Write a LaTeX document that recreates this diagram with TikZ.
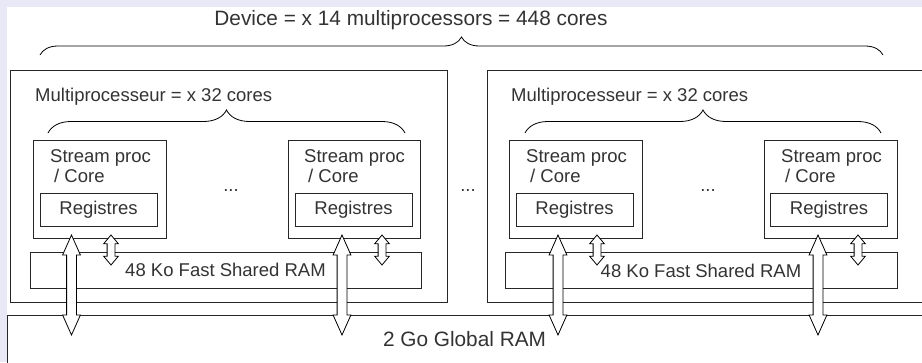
\documentclass[tikz,border=0pt]{standalone}
\usepackage{fontspec}
\setmainfont{Liberation Sans}
\usetikzlibrary{calc,shapes.arrows,decorations.pathreplacing}

\definecolor{lavbg}{RGB}{232,232,246}
\definecolor{ink}{RGB}{51,51,51}

\tikzset{
  blockbox/.style={draw=black!85, line width=0.9pt, inner sep=0pt, text=ink,
    font=\fontsize{18.5}{20}\selectfont},
  lbl/.style={text=ink, inner sep=0pt, font=\fontsize{18.5}{20}\selectfont},
  biglbl/.style={text=ink, inner sep=0pt, font=\fontsize{20.8}{23}\selectfont},
  bigbus/.style={double arrow, draw=black, line width=0.8pt, fill=white,
    inner sep=4.5pt, shape border rotate=90, minimum height=100pt,
    double arrow head extend=4pt, double arrow tip angle=48},
  smallbus/.style={double arrow, draw=black, line width=0.8pt, fill=white,
    inner sep=3.5pt, shape border rotate=90, minimum height=30pt,
    double arrow head extend=3.5pt, double arrow tip angle=80},
  curly/.style={decorate, decoration={brace, amplitude=#1}, draw=black, line width=0.8pt}
}

\begin{document}
\begin{tikzpicture}[x=1pt, y=-1pt]

\useasboundingbox (0,0) rectangle (922,362);
\fill[lavbg] (0,0) rectangle (922,362);
\fill[white] (7,7) rectangle (922,362);

\node[biglbl, anchor=base] (title) at (411,25) {Device = x 14 multiprocessors = 448 cores};
\coordinate (devL) at (40,55);
\coordinate (devR) at (883,55);
\draw[curly=18pt] (devL) -- (devR);

\node[blockbox, minimum width=933pt, minimum height=65pt] (globram) at (473.5,347.5) {};
\node[biglbl, anchor=base] (globtxt) at (464.5,346) {2 Go Global RAM};

\node[blockbox, minimum width=437pt, minimum height=232pt] (mpA) at (228.5,186) {};
\node[blockbox, minimum width=437pt, minimum height=232pt] (mpB) at (705.5,186) {};
\node[lbl, anchor=base] (dotsMid) at (468,191) {...};

\node[lbl, anchor=base west] (mpAtxt) at (35,101) {Multiprocesseur = x 32 cores};
\node[lbl, anchor=base west] (mpBtxt) at (511,101) {Multiprocesseur = x 32 cores};
\coordinate (mpAL) at (48,133);
\coordinate (mpAR) at (405,133);
\coordinate (mpBL) at (525,133);
\coordinate (mpBR) at (881,133);
\draw[curly=23pt] (mpAL) -- (mpAR);
\draw[curly=23pt] (mpBL) -- (mpBR);

\node[blockbox, minimum width=133pt, minimum height=98pt] (coreA1) at (99.5,189) {};
\node[blockbox, minimum width=132pt, minimum height=98pt] (coreA2) at (354,189) {};
\node[blockbox, minimum width=133pt, minimum height=98pt] (coreB1) at (575.5,189) {};
\node[blockbox, minimum width=133pt, minimum height=98pt] (coreB2) at (830.5,189) {};

\node[lbl, anchor=north west, align=left] (txtA1) at (50,149) {Stream proc\\\hspace*{4pt}/ Core};
\node[lbl, anchor=north west, align=left] (txtA2) at (304,149) {Stream proc\\\hspace*{4pt}/ Core};
\node[lbl, anchor=north west, align=left] (txtB1) at (526,149) {Stream proc\\\hspace*{4pt}/ Core};
\node[lbl, anchor=north west, align=left] (txtB2) at (781,149) {Stream proc\\\hspace*{4pt}/ Core};

\node[blockbox, minimum width=117pt, minimum height=33pt] (regA1) at (98.5,209.5) {Registres};
\node[blockbox, minimum width=117pt, minimum height=33pt] (regA2) at (353.5,209.5) {Registres};
\node[blockbox, minimum width=117pt, minimum height=33pt] (regB1) at (574.5,209.5) {Registres};
\node[blockbox, minimum width=117pt, minimum height=33pt] (regB2) at (829,209.5) {Registres};

\node[lbl, anchor=base] (dotsA) at (231,191) {...};
\node[lbl, anchor=base] (dotsB) at (708,191) {...};

\node[blockbox, minimum width=391pt, minimum height=36pt] (ramA) at (225.5,270) {48 Ko Fast Shared RAM};
\node[blockbox, minimum width=392pt, minimum height=36pt] (ramB) at (701,270.5) {48 Ko Fast Shared RAM};

\node[bigbus] (busA1) at (71.5,285) {};
\node[bigbus] (busA2) at (342,285) {};
\node[bigbus] (busB1) at (558,285) {};
\node[bigbus] (busB2) at (818,285) {};

\node[smallbus] (shmA1) at (111,250) {};
\node[smallbus] (shmA2) at (382,250) {};
\node[smallbus] (shmB1) at (597,250) {};
\node[smallbus] (shmB2) at (858,250) {};

\end{tikzpicture}
\end{document}
